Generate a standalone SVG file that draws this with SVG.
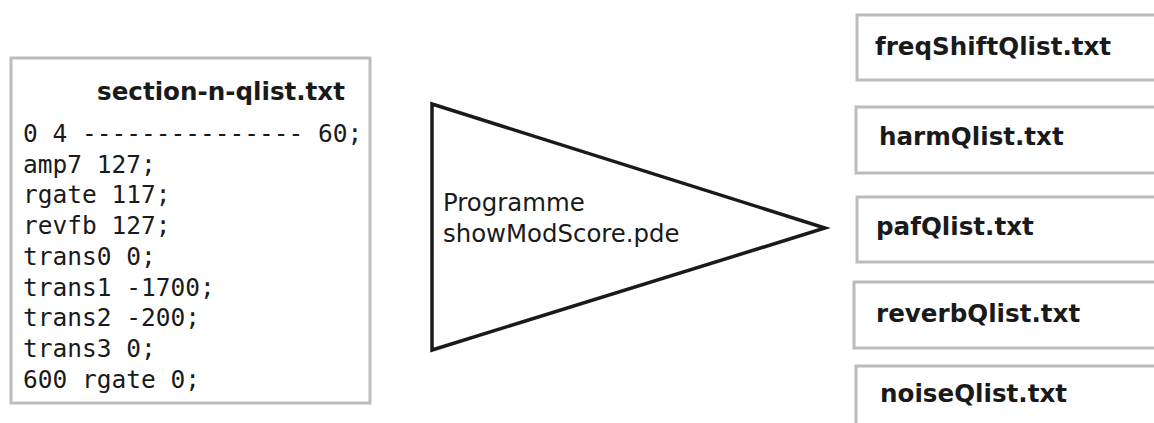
<svg xmlns="http://www.w3.org/2000/svg" width="1154" height="423" viewBox="0 0 1154 423">
<style>
.box{fill:#fff;stroke:#bcbcbe;stroke-width:3}
.title{font-family:"DejaVu Sans",sans-serif;font-weight:bold;font-size:24.6px;fill:#1a1a1a}
.mono{font-family:"DejaVu Sans Mono",monospace;font-size:24.5px;fill:#1a1a1a}
.prog{font-family:"DejaVu Sans",sans-serif;font-size:24.4px;fill:#1a1a1a}
</style>
<rect width="1154" height="423" fill="#fff"/>
<g id="source">
<rect class="box" x="11" y="58" width="359" height="345"/>
<text class="title" x="97" y="100">section-n-qlist.txt</text>
<text class="mono" x="23" y="142">0 4 --------------- 60;</text>
<text class="mono" x="23" y="172.7">amp7 127;</text>
<text class="mono" x="23" y="203.4">rgate 117;</text>
<text class="mono" x="23" y="234.1">revfb 127;</text>
<text class="mono" x="23" y="264.8">trans0 0;</text>
<text class="mono" x="23" y="295.5">trans1 -1700;</text>
<text class="mono" x="23" y="326.2">trans2 -200;</text>
<text class="mono" x="23" y="356.9">trans3 0;</text>
<text class="mono" x="23" y="387.6">600 rgate 0;</text>
</g>
<g id="program">
<polygon points="432,104 825,228 432,350" fill="#fff" stroke="#1a1a1a" stroke-width="3.5" stroke-linejoin="miter"/>
<text class="prog" x="443" y="211">Programme</text>
<text class="prog" x="443" y="242">showModScore.pde</text>
</g>
<g id="connectors"></g>
<g id="freqShift">
<rect class="box" x="857" y="15" width="310" height="65"/>
<text class="title" x="875" y="55">freqShiftQlist.txt</text>
</g>
<g id="harm">
<rect class="box" x="856" y="107" width="310" height="66"/>
<text class="title" x="879" y="145">harmQlist.txt</text>
</g>
<g id="paf">
<rect class="box" x="857" y="197" width="310" height="65"/>
<text class="title" x="876" y="235">pafQlist.txt</text>
</g>
<g id="reverb">
<rect class="box" x="854" y="282" width="312" height="66"/>
<text class="title" x="876" y="322">reverbQlist.txt</text>
</g>
<g id="noise">
<rect class="box" x="856" y="366" width="310" height="80"/>
<text class="title" x="880" y="402">noiseQlist.txt</text>
</g>
</svg>
